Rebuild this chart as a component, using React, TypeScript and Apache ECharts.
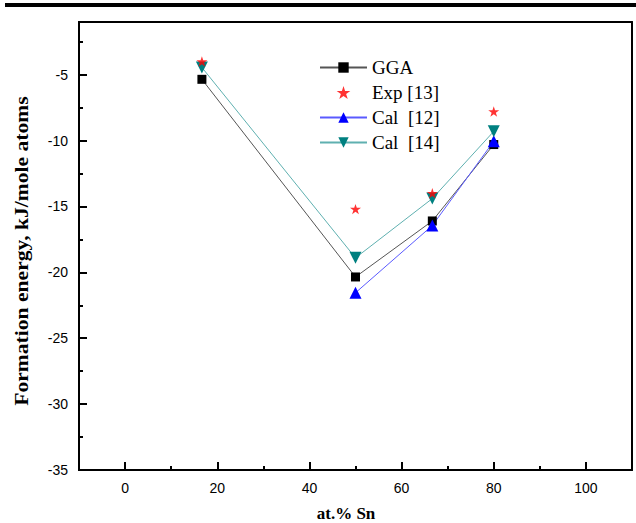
import React, { useEffect, useRef } from "react";
import * as echarts from "echarts";

const snPercent = [16.67, 50, 66.67, 80];
const ggaValues: (number | null)[] = [-5.35, -20.35, -16.1, -10.3];
const expValues: (number | null)[] = [-4.0, -15.2, -14.0, -7.8];
const cal12Values: (number | null)[] = [null, -21.55, -16.45, -10.05];
const cal14Values: (number | null)[] = [-4.45, -18.9, -14.4, -9.3];

const seriesNames = ["GGA", "Exp [13]", "Cal  [12]", "Cal  [14]"];

const xMajorTicks = [0, 20, 40, 60, 80, 100];
const xMinorTicks = [10, 30, 50, 70, 90];
const yMajorTicks = [-35, -30, -25, -20, -15, -10, -5];
const yMinorTicks = [-32.5, -27.5, -22.5, -17.5, -12.5, -7.5, -2.5];

const xTitle = "at.% Sn";
const yTitle = "Formation energy, kJ/mole atoms";

const STAR =
  "path://M50,0 L61.2,34.5 L97.6,34.5 L68.2,55.9 L79.4,90.5 L50,69.1 L20.6,90.5 L31.8,55.9 L2.4,34.5 L38.8,34.5 Z";

const pairs = (vals: (number | null)[]) =>
  snPercent
    .map((x, i) => (vals[i] == null ? null : [x, vals[i] as number]))
    .filter((p) => p !== null);

export default function App() {
  const ref = useRef<HTMLDivElement>(null);
  useEffect(() => {
    if (!ref.current) return;
    const chart = echarts.init(ref.current, undefined, { renderer: "svg" });
    const tickFont = { fontFamily: "Liberation Sans", fontSize: 14, color: "#000" };
    const tickLine = { color: "#000", width: 2 };
    chart.setOption({
      animation: false,
      backgroundColor: "#fff",
      grid: {
        left: 79,
        right: 4,
        top: 22,
        bottom: 53,
        show: false,
        containLabel: false,
        outerBoundsMode: "none",
      },
      legend: {
        orient: "vertical",
        left: 314,
        top: 53,
        itemWidth: 47,
        itemHeight: 13,
        itemGap: 6,
        itemTextGap: 5,
        textStyle: { fontFamily: "Liberation Serif", fontSize: 19, color: "#000" },
        data: seriesNames,
      },
      xAxis: [
        {
          type: "value",
          min: -10,
          max: 110,
          position: "bottom",
          axisLine: { show: true, onZero: false, lineStyle: { color: "#000", width: 2 } },
          axisTick: { show: true, inside: true, length: 8, customValues: xMajorTicks, lineStyle: tickLine },
          axisLabel: { ...tickFont, margin: 11, customValues: xMajorTicks },
          splitLine: { show: false },
        },
        {
          type: "value",
          min: -10,
          max: 110,
          position: "bottom",
          axisLine: { show: true, onZero: false, lineStyle: { color: "#000", width: 2 } },
          axisTick: { show: true, inside: true, length: 4, customValues: xMinorTicks, lineStyle: tickLine },
          axisLabel: { show: false },
          splitLine: { show: false },
        },
        {
          type: "value",
          min: -10,
          max: 110,
          position: "top",
          axisLine: { show: true, onZero: false, lineStyle: { color: "#000", width: 2 } },
          axisTick: { show: false },
          axisLabel: { show: false },
          splitLine: { show: false },
        },
      ],
      yAxis: [
        {
          type: "value",
          min: -35,
          max: -1,
          position: "left",
          axisLine: { show: true, onZero: false, lineStyle: { color: "#000", width: 2 } },
          axisTick: { show: true, inside: true, length: 8, customValues: yMajorTicks, lineStyle: tickLine },
          axisLabel: { ...tickFont, margin: 11, customValues: yMajorTicks },
          splitLine: { show: false },
        },
        {
          type: "value",
          min: -35,
          max: -1,
          position: "left",
          axisLine: { show: true, onZero: false, lineStyle: { color: "#000", width: 2 } },
          axisTick: { show: true, inside: true, length: 4, customValues: yMinorTicks, lineStyle: tickLine },
          axisLabel: { show: false },
          splitLine: { show: false },
        },
        {
          type: "value",
          min: -35,
          max: -1,
          position: "right",
          axisLine: { show: true, onZero: false, lineStyle: { color: "#000", width: 2 } },
          axisTick: { show: false },
          axisLabel: { show: false },
          splitLine: { show: false },
        },
      ],
      series: [
        {
          name: seriesNames[0],
          type: "line",
          data: pairs(ggaValues),
          symbol: "rect",
          symbolSize: 9,
          itemStyle: { color: "#000" },
          lineStyle: { color: "#555", width: 1 },
          z: 3,
        },
        {
          name: seriesNames[1],
          type: "scatter",
          data: pairs(expValues),
          symbol: STAR,
          symbolSize: 11,
          symbolKeepAspect: true,
          itemStyle: { color: "#ff0000" },
          z: 4,
        },
        {
          name: seriesNames[2],
          type: "line",
          data: pairs(cal12Values),
          symbol: "triangle",
          symbolSize: 12,
          itemStyle: { color: "#0000ff" },
          lineStyle: { color: "#5a5aff", width: 1 },
          z: 3,
        },
        {
          name: seriesNames[3],
          type: "line",
          data: pairs(cal14Values),
          symbol: "triangle",
          symbolRotate: 180,
          symbolSize: 12,
          itemStyle: { color: "#008080" },
          lineStyle: { color: "#5fb0b0", width: 1 },
          z: 3,
        },
      ],
      graphic: [
        {
          type: "rect",
          shape: { x: 5, y: 3, width: 631, height: 4 },
          style: { fill: "#000" },
        },
        {
          type: "text",
          x: 346,
          y: 513,
          style: {
            text: xTitle,
            fontFamily: "Liberation Serif",
            fontWeight: "bold",
            fontSize: 17,
            fill: "#000",
            align: "center",
            verticalAlign: "middle",
          },
        },
        {
          type: "text",
          x: 22,
          y: 251,
          rotation: Math.PI / 2,
          scaleX: 1.2,
          style: {
            text: yTitle,
            fontFamily: "Liberation Serif",
            fontWeight: "bold",
            fontSize: 18,
            fill: "#000",
            align: "center",
            verticalAlign: "middle",
          },
        },
      ],
    });
    return () => chart.dispose();
  }, []);
  return (
    <div
      ref={ref}
      style={{ position: "fixed", left: 0, top: 0, width: 636, height: 523 }}
    />
  );
}
